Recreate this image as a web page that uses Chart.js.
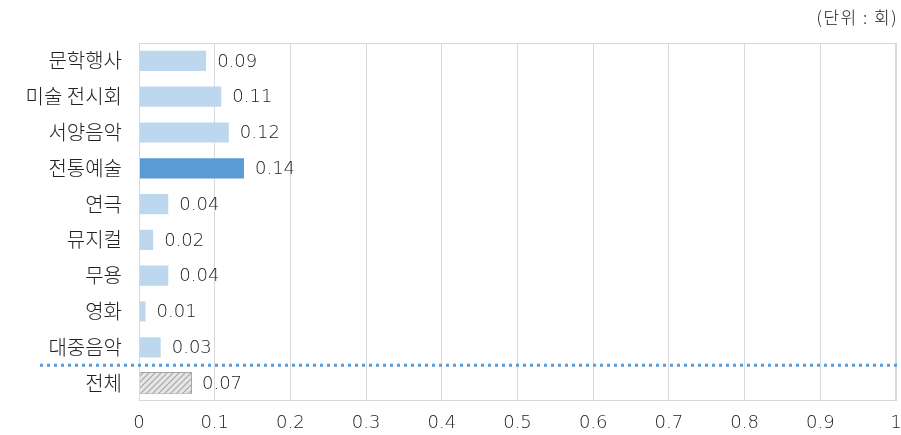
<!DOCTYPE html>
<html>
<head>
<meta charset="utf-8">
<script src="https://cdn.jsdelivr.net/npm/chart.js@4"></script>
<style>
  html, body { margin: 0; padding: 0; background: #fff; }
  #wrap { width: 901px; height: 435px; }
</style>
</head>
<body>
<div id="wrap"><canvas id="chart" width="901" height="435"></canvas></div>
<script>
const categories = ['문학행사', '미술 전시회', '서양음악', '전통예술', '연극', '뮤지컬', '무용', '영화', '대중음악', '전체'];
const values = [0.09, 0.11, 0.12, 0.14, 0.04, 0.02, 0.04, 0.01, 0.03, 0.07];
const valueLabels = ['0.09', '0.11', '0.12', '0.14', '0.04', '0.02', '0.04', '0.01', '0.03', '0.07'];
const xTicks = [0, 0.1, 0.2, 0.3, 0.4, 0.5, 0.6, 0.7, 0.8, 0.9, 1];
const unitText = '(단위 : 회)';

const KFONT = '"Noto Sans CJK KR", "Noto Sans", sans-serif';
const NFONT = '"DejaVu Sans", sans-serif';

function hatch() {
    const c = document.createElement('canvas');
    c.width = 6; c.height = 6;
    const g = c.getContext('2d');
    g.fillStyle = '#e6e6e6';
    g.fillRect(0, 0, 6, 6);
    g.strokeStyle = '#a6a6a6';
    g.lineWidth = 1.2;
    g.beginPath();
    g.moveTo(-1, 7); g.lineTo(7, -1);
    g.moveTo(-1, 1); g.lineTo(1, -1);
    g.moveTo(5, 7); g.lineTo(7, 5);
    g.stroke();
    return g.createPattern(c, 'repeat');
}

const barColors = categories.map(c => {
    if (c === '전체') return hatch();
    if (c === '전통예술') return '#5b9bd5';
    return '#bdd7ee';
});
const borderColors = categories.map(c => c === '전체' ? '#a6a6a6' : 'rgba(0,0,0,0)');

const extras = {
    id: 'extras',
    afterDraw(chart) {
        const ctx = chart.ctx;
        const area = chart.chartArea;
        const meta = chart.getDatasetMeta(0);
        const yScale = chart.scales.y;
        ctx.save();
        // box border
        ctx.strokeStyle = '#d9d9d9';
        ctx.lineWidth = 1;
        ctx.strokeRect(area.left + 0.5, area.top + 0.5, area.right - area.left - 1, area.bottom - area.top - 1);
        // value labels
        ctx.fillStyle = '#222';
        ctx.font = '200 18px ' + NFONT;
        ctx.textBaseline = 'middle';
        ctx.textAlign = 'left';
        meta.data.forEach((bar, i) => {
            ctx.fillText(valueLabels[i], bar.x + 10, bar.y + 1);
        });
        // dotted separator
        const ySep = (yScale.getPixelForValue(8) + yScale.getPixelForValue(9)) / 2;
        ctx.strokeStyle = '#5b9bd5';
        ctx.lineWidth = 3;
        ctx.setLineDash([3, 4]);
        ctx.beginPath();
        ctx.moveTo(40, ySep);
        ctx.lineTo(901, ySep);
        ctx.stroke();
        ctx.setLineDash([]);
        // unit
        ctx.fillStyle = '#222';
        ctx.font = '300 17px ' + KFONT;
        ctx.letterSpacing = '1.5px';
        ctx.textAlign = 'right';
        ctx.fillText(unitText, 898, 18);
        ctx.restore();
    }
};

const data = {
    labels: categories,
    datasets: [{
        data: values,
        backgroundColor: barColors,
        borderColor: borderColors,
        borderWidth: 1,
        categoryPercentage: 1,
        barPercentage: 0.62
    }]
};

const config = {
    type: 'bar',
    data: data,
    options: {
        indexAxis: 'y',
        responsive: false,
        animation: false,
        layout: { padding: { top: 43, right: 5, left: 0, bottom: 0 } },
        plugins: {
            legend: { display: false },
            tooltip: { enabled: false }
        },
        scales: {
            x: {
                min: 0,
                max: 1,
                afterBuildTicks: scale => { scale.ticks = xTicks.map(v => ({ value: v })); },
                afterFit: scale => {
                    scale.height = 34;
                    scale.paddingRight = 0;
                    scale.paddingLeft = 0;
                },
                grid: { color: '#d9d9d9', drawTicks: false },
                border: { display: false },
                ticks: {
                    color: '#222',
                    font: { family: NFONT, size: 18, weight: 200 },
                    padding: 12,
                    maxRotation: 0,
                    callback: v => String(v)
                }
            },
            y: {
                afterFit: scale => { scale.width = 139; },
                grid: { display: false, drawTicks: false },
                border: { display: false },
                ticks: {
                    color: '#222',
                    font: { family: KFONT, size: 20, weight: 300 },
                    padding: 17
                }
            }
        }
    },
    plugins: [extras]
};

let ctx = document.getElementById('chart').getContext('2d');
new Chart(ctx, config);
</script>
</body>
</html>
